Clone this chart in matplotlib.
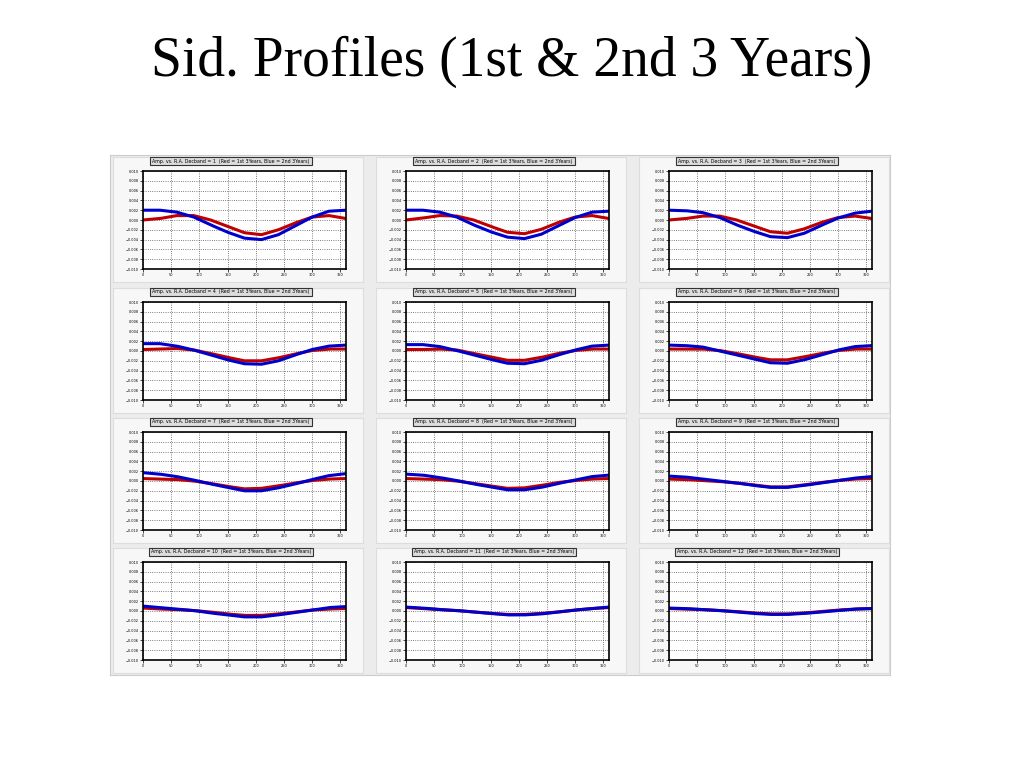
import matplotlib
matplotlib.use("Agg")
import matplotlib.pyplot as plt
import numpy as np

ra = [0, 30, 60, 90, 120, 150, 180, 210, 240, 270, 300, 330, 360]

# red = 1st 3 years, blue = 2nd 3 years, one list per declination band
red = {
  1: [0.0, 0.0003, 0.0009, 0.0009, 0.0, -0.0013, -0.0026, -0.003, -0.002, -0.0006, 0.0006, 0.0009, 0.0003],
  2: [0.0, 0.0004, 0.0009, 0.0008, 0.0, -0.0013, -0.0025, -0.0028, -0.0019, -0.0005, 0.0006, 0.0009, 0.0003],
  3: [0.0, 0.0003, 0.0008, 0.0008, 0.0, -0.0012, -0.0024, -0.0027, -0.0018, -0.0005, 0.0005, 0.0008, 0.0003],
  4: [0.0003, 0.0004, 0.0005, 0.0002, -0.0005, -0.0013, -0.002, -0.002, -0.0014, -0.0006, 0.0001, 0.0004, 0.0004],
  5: [0.0003, 0.0003, 0.0004, 0.0002, -0.0005, -0.0012, -0.0019, -0.0019, -0.0013, -0.0005, 0.0001, 0.0004, 0.0004],
  6: [0.0004, 0.0004, 0.0004, 0.0001, -0.0005, -0.0012, -0.0018, -0.0018, -0.0012, -0.0005, 0.0001, 0.0004, 0.0004],
  7: [0.0005, 0.0004, 0.0003, 0.0, -0.0005, -0.0011, -0.0016, -0.0015, -0.001, -0.0004, 0.0001, 0.0004, 0.0005],
  8: [0.0005, 0.0004, 0.0003, 0.0, -0.0005, -0.001, -0.0015, -0.0014, -0.0009, -0.0003, 0.0001, 0.0004, 0.0005],
  9: [0.0004, 0.0003, 0.0001, -0.0001, -0.0004, -0.0008, -0.0012, -0.0012, -0.0008, -0.0003, 0.0001, 0.0004, 0.0005],
  10: [0.0006, 0.0004, 0.0003, 0.0001, -0.0002, -0.0006, -0.0009, -0.0009, -0.0006, -0.0002, 0.0002, 0.0004, 0.0005],
  11: [0.0007, 0.0005, 0.0003, 0.0001, -0.0002, -0.0005, -0.0007, -0.0007, -0.0005, -0.0002, 0.0002, 0.0005, 0.0007],
  12: [0.0005, 0.0004, 0.0003, 0.0001, -0.0001, -0.0004, -0.0006, -0.0006, -0.0004, -0.0001, 0.0002, 0.0004, 0.0005],
}
blue = {
  1: [0.002, 0.002, 0.0016, 0.0006, -0.001, -0.0025, -0.0037, -0.004, -0.003, -0.0012, 0.0006, 0.0018, 0.002],
  2: [0.002, 0.002, 0.0016, 0.0006, -0.001, -0.0024, -0.0035, -0.0038, -0.0029, -0.0012, 0.0005, 0.0016, 0.0018],
  3: [0.002, 0.0019, 0.0015, 0.0005, -0.001, -0.0023, -0.0034, -0.0036, -0.0027, -0.0011, 0.0004, 0.0014, 0.0018],
  4: [0.0015, 0.0015, 0.001, 0.0002, -0.0008, -0.0018, -0.0026, -0.0027, -0.002, -0.0008, 0.0003, 0.001, 0.0012],
  5: [0.0013, 0.0013, 0.0009, 0.0001, -0.0008, -0.0017, -0.0025, -0.0026, -0.0019, -0.0008, 0.0002, 0.001, 0.0012],
  6: [0.0012, 0.0011, 0.0008, 0.0, -0.0008, -0.0016, -0.0024, -0.0025, -0.0018, -0.0008, 0.0002, 0.0009, 0.0011],
  7: [0.0017, 0.0014, 0.0009, 0.0002, -0.0006, -0.0013, -0.002, -0.002, -0.0014, -0.0006, 0.0003, 0.0011, 0.0015],
  8: [0.0014, 0.0012, 0.0007, 0.0001, -0.0006, -0.0012, -0.0018, -0.0018, -0.0013, -0.0005, 0.0002, 0.0009, 0.0012],
  9: [0.001, 0.0008, 0.0004, 0.0, -0.0004, -0.0009, -0.0013, -0.0013, -0.0009, -0.0004, 0.0001, 0.0006, 0.0009],
  10: [0.001, 0.0007, 0.0004, 0.0001, -0.0004, -0.0008, -0.0012, -0.0012, -0.0008, -0.0003, 0.0002, 0.0007, 0.0009],
  11: [0.0008, 0.0006, 0.0003, 0.0001, -0.0002, -0.0005, -0.0008, -0.0008, -0.0006, -0.0002, 0.0002, 0.0005, 0.0008],
  12: [0.0006, 0.0005, 0.0003, 0.0001, -0.0002, -0.0005, -0.0007, -0.0007, -0.0005, -0.0002, 0.0001, 0.0004, 0.0005],
}
xticks = [0, 50, 100, 150, 200, 250, 300, 350]
yticks = [-0.01, -0.008, -0.006, -0.004, -0.002, 0, 0.002, 0.004, 0.006, 0.008, 0.01]

W, H = 1024, 768
fig = plt.figure(figsize=(W/100, H/100), dpi=100)
fig.text(0.5, 1 - 62/H, "Sid. Profiles (1st & 2nd 3 Years)", ha='center', va='center',
         fontsize=40, family='Liberation Serif')

def rect(x, y, w, h):
  return [x/W, 1-(y+h)/H, w/W, h/H]

bg = fig.add_axes(rect(110, 155, 780, 520))
bg.set_facecolor('#ececec'); bg.set_xticks([]); bg.set_yticks([])
for s in bg.spines.values(): s.set_color('#cccccc')

col_x = [113, 376, 639]
row_y = [157, 288, 418, 548]
pw, ph = 250, 125
xs = np.linspace(0, 360, 181)
for i in range(12):
  band = i + 1
  r, c = divmod(i, 3)
  px, py = col_x[c], row_y[r]
  pan = fig.add_axes(rect(px, py, pw, ph))
  pan.set_facecolor('#f7f7f7'); pan.set_xticks([]); pan.set_yticks([])
  for s in pan.spines.values(): s.set_color('#dddddd')
  fig.text((px + 118)/W, 1 - (py + 4)/H,
           "Amp. vs. R.A. Decband = %d  (Red = 1st 3Years, Blue = 2nd 3Years)" % band,
           ha='center', va='center', fontsize=3.4,
           bbox=dict(boxstyle='square,pad=0.4', fc='#dddddd', ec='#333333', lw=0.8))
  ax = fig.add_axes(rect(px + 30, py + 14, 203, 98))
  ax.set_facecolor('white')
  ax.plot(xs, np.interp(xs, ra, red[band]), color='#c00000', lw=2.2)
  ax.plot(xs, np.interp(xs, ra, blue[band]), color='#0000cc', lw=2.2)
  ax.set_xlim(0, 360); ax.set_ylim(-0.01, 0.01)
  ax.set_xticks(xticks); ax.set_yticks(yticks)
  ax.tick_params(labelsize=2.5, length=2, width=0.5, pad=1)
  ax.grid(True, ls=':', color='#555555', lw=0.6)
  for s in ax.spines.values(): s.set_linewidth(1.2)

fig.savefig("out.png", dpi=100)
